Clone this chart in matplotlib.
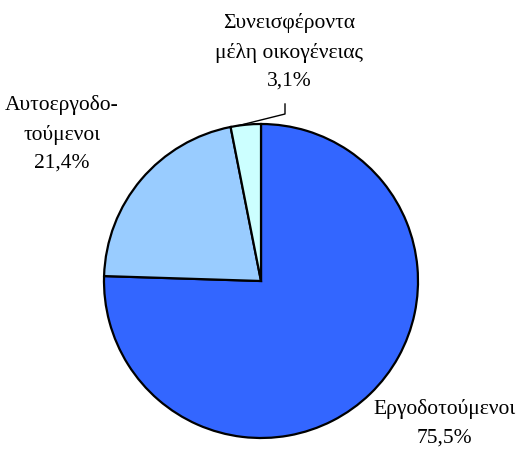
import numpy as np
import matplotlib
matplotlib.use("Agg")
import matplotlib.pyplot as plt

labels = ["Εργοδοτούμενοι", "Αυτοεργοδο-\nτούμενοι", "Συνεισφέροντα\nμέλη οικογένειας"]
shares = [75.5, 21.4, 3.1]
colors = ["#3366FF", "#99CCFF", "#CCFFFF"]

plt.rcParams['font.family'] = ['Liberation Serif', 'DejaVu Serif']

fig = plt.figure(figsize=(5.27, 4.5), dpi=100)
ax = fig.add_axes([0, 0, 1, 1])

cx, cy, r = 261, 169, 157
wedges, _ = ax.pie(shares, colors=colors, startangle=90, counterclock=False,
                   center=(cx, cy), radius=r, frame=True,
                   wedgeprops=dict(edgecolor='black', linewidth=1.6))
ax.set_xlim(0, 527)
ax.set_ylim(0, 450)
ax.set_aspect('equal')
ax.axis('off')

def fmt(v):
    return f"{v:.1f}%".replace('.', ',')

# label positions (text centre)
label_pos = [(444, 27), (62, 316), (289, 398)]
for lab, v, (x, y) in zip(labels, shares, label_pos):
    ax.text(x, y, lab + "\n" + fmt(v), ha='center', va='center',
            fontsize=15.5, linespacing=1.65)

# leader line for the small slice
w = wedges[2]
ang = np.deg2rad(w.theta1 + 0.75 * (w.theta2 - w.theta1))
x0, y0 = cx + r * np.cos(ang), cy + r * np.sin(ang)
ax.plot([x0, 285, 285], [y0, 336, 346], color='black', lw=1)

fig.savefig("out.png", dpi=100)
